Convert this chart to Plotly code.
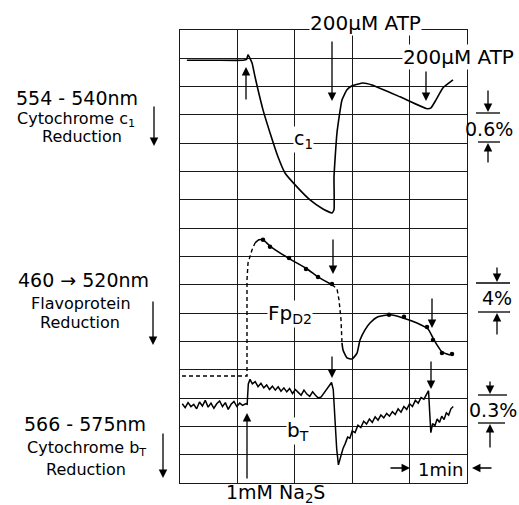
import plotly.graph_objects as go

# ---------------- data (x in minutes, y in chart grid divisions) ----------------
c1_x = [0.12, 0.60, 1.10, 1.16, 1.185, 1.254, 1.307, 1.359, 1.446, 1.568, 1.707, 1.829, 2.038,
        2.265, 2.491, 2.648, 2.683, 2.683, 2.735, 2.822, 2.909, 2.997, 3.188, 3.345, 3.833,
        4.303, 4.373, 4.46, 4.582, 4.756]
c1_y = [14.93, 14.93, 14.93, 14.96, 15.12, 14.84, 14.35, 13.89, 13.18, 12.37, 11.52, 10.95, 10.46,
        10.0, 9.68, 9.54, 9.65, 10.81, 12.37, 13.53, 13.89, 14.03, 14.13, 14.06, 13.64,
        13.22, 13.25, 13.53, 13.96, 14.24]

fp_pre_x = [0.035, 1.167, 1.167, 1.185, 1.254, 1.307]
fp_pre_y = [3.78, 3.78, 7.17, 7.77, 8.23, 8.48]
fp1_x = [1.307, 1.376, 1.446, 1.568, 1.882, 2.213, 2.404, 2.648]
fp1_y = [8.48, 8.59, 8.59, 8.37, 7.95, 7.56, 7.28, 7.0]
fp_drop_x = [2.648, 2.735, 2.77, 2.805, 2.822]
fp_drop_y = [7.0, 6.86, 6.47, 5.76, 4.95]
fp2_x = [2.822, 2.84, 2.909, 2.997, 3.084, 3.136, 3.223, 3.31, 3.449, 3.659, 3.885, 4.129,
         4.321, 4.408, 4.477, 4.564, 4.704]
fp2_y = [4.95, 4.70, 4.42, 4.38, 4.59, 5.05, 5.41, 5.65, 5.87, 5.94, 5.83, 5.65,
         5.44, 5.12, 4.88, 4.63, 4.52]
fp_dots_x = [1.446, 1.568, 1.899, 2.195, 2.404, 2.648, 3.641, 3.902, 4.303, 4.408, 4.564, 4.739]
fp_dots_y = [8.59, 8.34, 7.95, 7.56, 7.28, 7.03, 5.94, 5.87, 5.51, 5.05, 4.59, 4.56]

bt_x = [0.04, 0.09, 0.14, 0.19, 0.24, 0.29, 0.34, 0.39, 0.44, 0.49, 0.54, 0.59, 0.64, 0.69,
        0.74, 0.79, 0.84, 0.89, 0.94, 0.99, 1.04, 1.09, 1.14, 1.17,
        1.19, 1.22, 1.26, 1.31, 1.36, 1.41, 1.46, 1.51, 1.56, 1.61, 1.66, 1.71, 1.76, 1.81,
        1.86, 1.91, 1.96, 2.01, 2.06, 2.11, 2.16, 2.21, 2.26, 2.31, 2.36, 2.41, 2.46, 2.52,
        2.58, 2.64,
        2.67, 2.70, 2.73, 2.76, 2.80, 2.84, 2.88, 2.92, 2.96, 3.00, 3.05, 3.10, 3.15, 3.20,
        3.25, 3.30, 3.35, 3.40, 3.45, 3.50, 3.55, 3.60, 3.65, 3.70, 3.75, 3.80, 3.85, 3.90,
        3.95, 4.00, 4.05, 4.10, 4.15, 4.20, 4.25, 4.30, 4.33,
        4.35, 4.37, 4.40, 4.44, 4.48, 4.52, 4.56, 4.60, 4.64, 4.68, 4.72, 4.76]
bt_y = [2.80, 2.66, 2.84, 2.70, 2.78, 2.62, 2.86, 2.72, 2.92, 2.68, 2.82, 2.64, 2.80, 2.90,
        2.70, 2.84, 2.60, 2.78, 2.88, 2.70, 2.82, 2.74, 2.80, 2.78,
        3.50, 3.66, 3.50, 3.58, 3.40, 3.52, 3.36, 3.46, 3.30, 3.42, 3.28, 3.40, 3.24, 3.36,
        3.22, 3.34, 3.16, 3.30, 3.20, 3.10, 3.28, 3.14, 3.06, 3.22, 3.10, 3.00, 3.04, 3.20,
        3.36, 3.55,
        3.30, 2.20, 1.20, 0.64, 0.95, 1.22, 1.40, 1.62, 1.58, 1.84, 1.78, 2.04, 1.96, 2.18,
        2.08, 2.26, 2.14, 2.34, 2.22, 2.40, 2.30, 2.46, 2.36, 2.52, 2.42, 2.62, 2.50, 2.70,
        2.60, 2.80, 2.70, 2.92, 2.82, 3.02, 2.96, 3.18, 3.26,
        2.50, 1.78, 2.10, 2.02, 2.26, 2.14, 2.36, 2.24, 2.48, 2.40, 2.62, 2.70]

x_ticks = [0, 1, 2, 3, 4, 5]
y_ticks = list(range(0, 17))

# ---------------- geometry helpers (page pixels -> paper coords) ----------------
L, R, T, B = 180, 467, 30, 483
W, H = 519, 505
FONT = "DejaVu Sans"


def pp(px, py):
    return (px - L) / (R - L), (B - py) / (B - T)


fig = go.Figure()
fig.add_trace(go.Scatter(x=c1_x, y=c1_y, mode="lines",
                         line=dict(color="black", width=1.6, shape="spline", smoothing=0.4)))
fig.add_trace(go.Scatter(x=fp_pre_x, y=fp_pre_y, mode="lines",
                         line=dict(color="black", width=1.4, dash="4px,3px")))
fig.add_trace(go.Scatter(x=fp1_x, y=fp1_y, mode="lines",
                         line=dict(color="black", width=1.6, shape="spline", smoothing=0.5)))
fig.add_trace(go.Scatter(x=fp_drop_x, y=fp_drop_y, mode="lines",
                         line=dict(color="black", width=1.4, dash="4px,3px")))
fig.add_trace(go.Scatter(x=fp2_x, y=fp2_y, mode="lines",
                         line=dict(color="black", width=1.6, shape="spline", smoothing=0.5)))
fig.add_trace(go.Scatter(x=fp_dots_x, y=fp_dots_y, mode="markers",
                         marker=dict(color="black", size=4.5)))
fig.add_trace(go.Scatter(x=bt_x, y=bt_y, mode="lines", line=dict(color="black", width=1.5)))

annotations = []


def text(s, px, py, size=17, bg=None, xanchor="center"):
    x, y = pp(px, py)
    d = dict(text=s, x=x, y=y, xref="paper", yref="paper", showarrow=False,
             xanchor=xanchor, yanchor="middle", font=dict(family=FONT, size=size, color="black"))
    if bg:
        d["bgcolor"] = bg
        d["borderpad"] = 0
    annotations.append(d)


def arrow(hx, hy, tx, ty, w=1.3):
    x, y = pp(hx, hy)
    annotations.append(dict(text="", x=x, y=y, xref="paper", yref="paper", showarrow=True,
                            ax=tx - hx, ay=ty - hy, arrowhead=2, arrowsize=1.3,
                            arrowwidth=w, arrowcolor="black"))


# left labels
text("554 - 540nm", 77, 98, 19)
text("Cytochrome c<sub>1</sub>", 76, 119, 16)
text("Reduction", 82, 136, 16)
arrow(154, 146, 154, 105)
text("460 → 520nm", 84, 280, 19)
text("Flavoprotein", 81, 303, 16)
text("Reduction", 80, 322, 16)
arrow(153, 345, 153, 300)
text("566 - 575nm", 85, 424, 19)
text("Cytochrome b<sub>T</sub>", 86, 448, 16)
text("Reduction", 86, 469, 16)
arrow(163, 478, 163, 432)

# top labels and arrows
text("200μM ATP", 365, 23, 20, bg="white")
text("200μM ATP", 458, 57, 20, bg="white")
arrow(246, 67, 246, 101)
arrow(332, 101, 332, 40)
arrow(426, 101, 426, 70)
arrow(333, 274, 333, 238)
arrow(432, 328, 432, 297)
arrow(332, 378, 332, 355)
arrow(431, 389, 431, 360)
arrow(247, 413, 247, 480)

# trace labels
text("c<sub>1</sub>", 303, 139, 19, bg="white")
text("Fp<sub>D2</sub>", 290, 314, 20, bg="white")
text("b<sub>T</sub>", 298, 431, 20, bg="white")
text("1mM Na<sub>2</sub>S", 275, 494, 19)

# time bar
text("1min", 440, 469, 18)
arrow(410, 468, 389, 468)
arrow(472, 468, 493, 468)

# scale bars
text("0.6%", 489, 129, 19)
arrow(488, 112, 488, 89)
arrow(488, 143, 488, 164)
text("4%", 497, 298, 19)
arrow(497, 282, 497, 266)
arrow(497, 313, 497, 336)
text("0.3%", 493, 410, 19)
arrow(490, 394, 490, 380)
arrow(490, 424, 490, 449)

shapes = []
for x0, x1, yy in [(476, 500, 113), (478, 500, 142), (476, 510, 283), (478, 510, 312),
                   (478, 507, 395), (478, 505, 423)]:
    a, b = pp(x0, yy)
    c, _ = pp(x1, yy)
    shapes.append(dict(type="line", xref="paper", yref="paper", x0=a, x1=c, y0=b, y1=b,
                       line=dict(color="black", width=1.3)))

axis_common = dict(showgrid=True, gridcolor="#1a1a1a", gridwidth=1.1, showline=True,
                   linecolor="#1a1a1a", linewidth=1.3, mirror=True, zeroline=False,
                   showticklabels=False, ticks="", fixedrange=True)
fig.update_layout(
    width=W, height=H,
    margin=dict(l=L, r=W - R, t=T, b=H - B, pad=0),
    paper_bgcolor="white", plot_bgcolor="white",
    showlegend=False, hovermode=False,
    xaxis=dict(range=[0, 5], tickvals=x_ticks, **axis_common),
    yaxis=dict(range=[0, 16], tickvals=y_ticks, **axis_common),
    annotations=annotations, shapes=shapes,
)
fig.write_html("out.html", config={"displayModeBar": False, "staticPlot": True},
               post_script="document.body.style.margin='0';document.body.style.overflow='hidden';")
